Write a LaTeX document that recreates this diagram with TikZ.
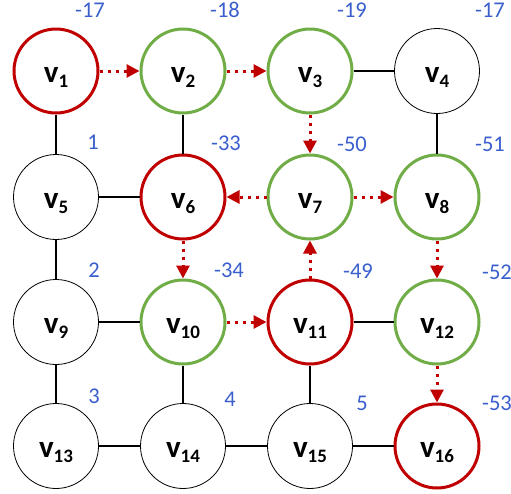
\documentclass[tikz,border=0pt]{standalone}
\usepackage{fontspec}
\setmainfont{Carlito}
\usetikzlibrary{arrows.meta}
\definecolor{vred}{HTML}{C00000}
\definecolor{vgreen}{HTML}{70AD47}
\definecolor{lblue}{HTML}{3A5FCD}
\newcommand{\vlab}[1]{v\raisebox{-5pt}{\fontsize{19}{19}\selectfont #1}}
\begin{document}
\begin{tikzpicture}[x=1pt,y=-1pt,
 vtx/.style={circle, draw=black, minimum size=85pt, inner sep=0pt, line width=0.8pt,
   font=\fontsize{31}{31}\selectfont\bfseries, text height=24pt, text depth=2pt},
 redv/.style={vtx, draw=vred, line width=3pt, minimum size=84pt},
 greenv/.style={vtx, draw=vgreen, line width=3pt, minimum size=84pt},
 edge/.style={line width=1.5pt},
 flow/.style={draw=vred, line width=3pt, dash pattern=on 3pt off 5pt,
   -{Triangle[length=13pt,width=13pt]}},
 val/.style={text=lblue, font=\fontsize{22.5}{22.5}\selectfont, anchor=base, inner sep=0pt}]
\useasboundingbox (0,0) rectangle (511,493);

% vertices
\node[redv]   (v1)  at (56,71)   {\vlab{1}};
\node[greenv] (v2)  at (183,71)  {\vlab{2}};
\node[greenv] (v3)  at (310,71)  {\vlab{3}};
\node[vtx]    (v4)  at (437,71)  {\vlab{4}};
\node[vtx]    (v5)  at (56,197)  {\vlab{5}};
\node[redv]   (v6)  at (183,197) {\vlab{6}};
\node[greenv] (v7)  at (310,197) {\vlab{7}};
\node[greenv] (v8)  at (437,197) {\vlab{8}};
\node[vtx]    (v9)  at (56,322)  {\vlab{9}};
\node[greenv] (v10) at (183,322) {\vlab{10}};
\node[redv]   (v11) at (310,322) {\vlab{11}};
\node[greenv] (v12) at (437,322) {\vlab{12}};
\node[vtx]    (v13) at (56,446)  {\vlab{13}};
\node[vtx]    (v14) at (183,446) {\vlab{14}};
\node[vtx]    (v15) at (310,446) {\vlab{15}};
\node[redv]   (v16) at (437,446) {\vlab{16}};

% solid edges
\draw[edge] (v1) -- (v5);
\draw[edge] (v2) -- (v6);
\draw[edge] (v3) -- (v4);
\draw[edge] (v4) -- (v8);
\draw[edge] (v5) -- (v6);
\draw[edge] (v5) -- (v9);
\draw[edge] (v9) -- (v10);
\draw[edge] (v9) -- (v13);
\draw[edge] (v10) -- (v14);
\draw[edge] (v11) -- (v12);
\draw[edge] (v11) -- (v15);
\draw[edge] (v13) -- (v14);
\draw[edge] (v14) -- (v15);
\draw[edge] (v15) -- (v16);

% dotted flow arrows
\draw[flow] (v1) -- (v2);
\draw[flow] (v2) -- (v3);
\draw[flow] (v3) -- (v7);
\draw[flow] (v7) -- (v6);
\draw[flow] (v7) -- (v8);
\draw[flow] (v6) -- (v10);
\draw[flow] (v10) -- (v11);
\draw[flow] (v11) -- (v7);
\draw[flow] (v8) -- (v12);
\draw[flow] (v12) -- (v16);

% values
\node[val] (l1)  at (90,17)   {-17};
\node[val] (l2)  at (225,17)  {-18};
\node[val] (l3)  at (352,17)  {-19};
\node[val] (l4)  at (490,17)  {-17};
\node[val] (l5)  at (93,149)  {1};
\node[val] (l6)  at (226,150) {-33};
\node[val] (l7)  at (352,151) {-50};
\node[val] (l8)  at (490,151) {-51};
\node[val] (l9)  at (94,277)  {2};
\node[val] (l10) at (229,277) {-34};
\node[val] (l11) at (358,278) {-49};
\node[val] (l12) at (497,279) {-52};
\node[val] (l13) at (94,403)  {3};
\node[val] (l14) at (230,406) {4};
\node[val] (l15) at (362,410) {5};
\node[val] (l16) at (497,410) {-53};
\end{tikzpicture}
\end{document}
